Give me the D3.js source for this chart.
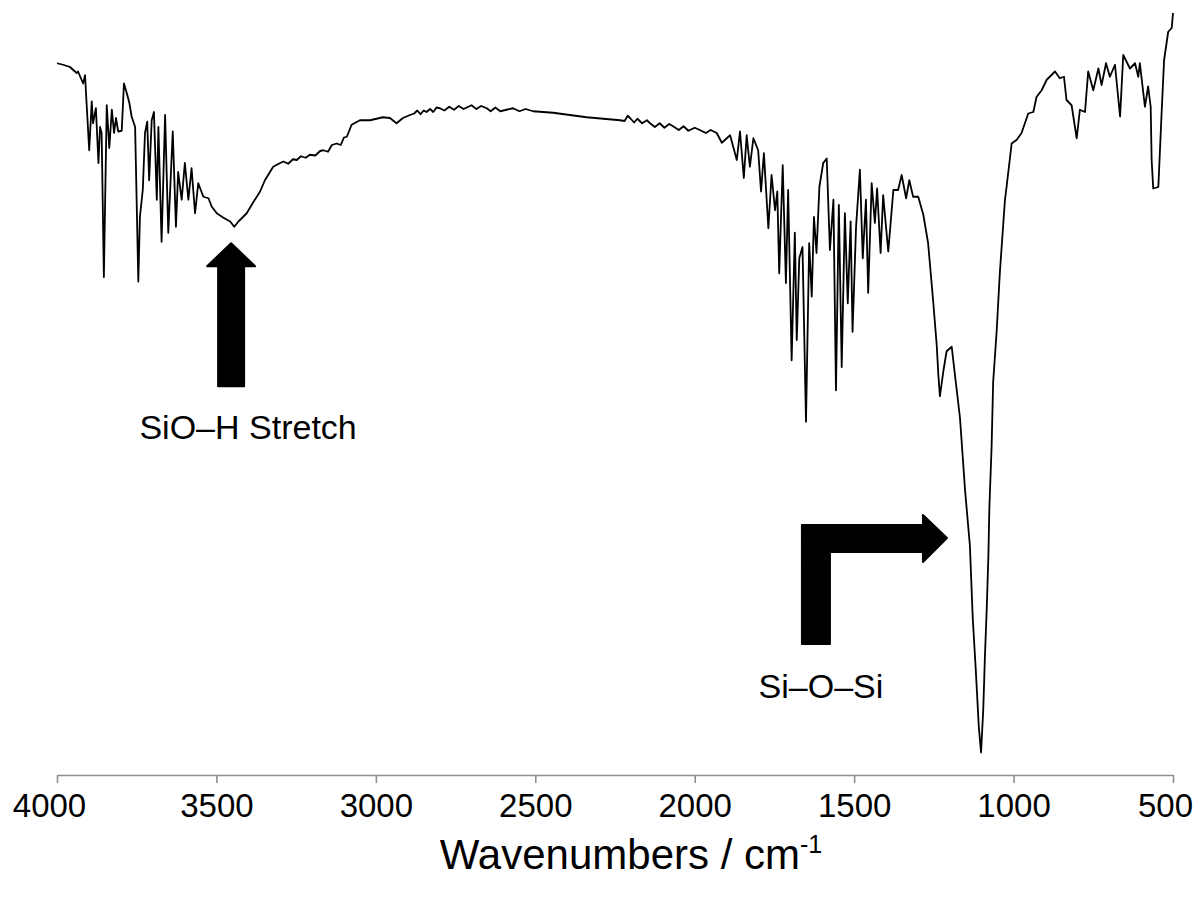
<!DOCTYPE html>
<html>
<head>
<meta charset="utf-8">
<script src="https://cdn.jsdelivr.net/npm/d3@7"></script>
<style>
    html, body { margin: 0; padding: 0; background: #fff; }
    svg { display: block; }
    text { font-family: Arial, "Liberation Sans", sans-serif; }
</style>
</head>
<body>
<div id="chart-div"></div>
<script>
// IR spectrum: wavenumber (cm-1) and transmittance (%)
const wavenumber = [
    4000, 3981, 3959, 3949, 3938, 3934, 3923, 3918, 3912, 3909,
    3899, 3891, 3887, 3878, 3870, 3865, 3860, 3853, 3844, 3836,
    3828, 3821, 3815, 3808, 3797, 3790, 3781, 3773, 3766, 3755,
    3745, 3740, 3731, 3724, 3717, 3711, 3703, 3696, 3687, 3682,
    3672, 3661, 3651, 3637, 3627, 3620, 3609, 3599, 3588, 3578,
    3567, 3557, 3541, 3525, 3515, 3499, 3478, 3457, 3444, 3431,
    3405, 3384, 3363, 3348, 3322, 3300, 3290, 3275, 3260, 3248,
    3235, 3220, 3207, 3190, 3175, 3165, 3150, 3138, 3123, 3110,
    3100, 3091, 3076, 3050, 3018, 2978, 2956, 2935, 2915, 2893,
    2880, 2870, 2860, 2850, 2841, 2830, 2820, 2810, 2799, 2785,
    2770, 2755, 2740, 2725, 2715, 2700, 2685, 2670, 2652, 2640,
    2625, 2610, 2590, 2570, 2550, 2530, 2507, 2444, 2339, 2234,
    2220, 2210, 2203, 2190, 2180, 2165, 2150, 2140, 2125, 2110,
    2095, 2080, 2068, 2050, 2035, 2020, 2000, 1984, 1965, 1950,
    1931, 1915, 1889, 1868, 1858, 1846, 1837, 1827, 1816, 1801,
    1792, 1783, 1769, 1759, 1748, 1741, 1735, 1724, 1714, 1707,
    1696, 1686, 1680, 1672, 1662, 1651, 1641, 1633, 1626, 1618,
    1609, 1597, 1586, 1576, 1565, 1557, 1548, 1539, 1529, 1520,
    1511, 1505, 1494, 1482, 1473, 1463, 1456, 1445, 1435, 1428,
    1417, 1409, 1393, 1377, 1362, 1351, 1337, 1327, 1315, 1299,
    1283, 1268, 1252, 1241, 1236, 1231, 1220, 1210, 1194, 1184,
    1168, 1152, 1137, 1128, 1118, 1109, 1102, 1095, 1090, 1084,
    1079, 1076, 1069, 1064, 1053, 1043, 1027, 1022, 1006, 990,
    975, 954, 938, 928, 912, 896, 870, 855, 842, 834,
    818, 802, 792, 776, 766, 750, 734, 724, 710, 698,
    682, 666, 656, 635, 619, 609, 604, 588, 578, 570,
    567, 562, 546, 536, 528, 515, 504, 500
];
const transmittance = [
    94.9, 94.7, 94.4, 94.0, 93.6, 93.8, 92.7, 92.2, 93.3, 90.9,
    83.3, 89.8, 86.9, 88.9, 81.6, 86.4, 85.6, 66.4, 89.3, 83.6,
    88.7, 85.6, 87.6, 85.8, 85.9, 92.2, 90.9, 89.6, 87.8, 86.4,
    65.8, 74.4, 78.0, 85.6, 87.1, 79.3, 87.3, 88.4, 76.7, 86.4,
    71.1, 88.0, 72.3, 85.8, 73.1, 80.4, 76.7, 81.6, 76.7, 80.9,
    74.9, 78.9, 77.1, 76.9, 75.8, 74.9, 74.3, 73.8, 73.1, 73.8,
    74.9, 76.4, 77.8, 79.3, 81.1, 81.6, 81.8, 81.5, 82.1, 82.0,
    82.5, 82.3, 82.7, 82.6, 83.2, 83.3, 83.1, 84.0, 84.2, 84.0,
    85.0, 85.1, 86.7, 87.3, 87.3, 87.7, 87.6, 86.9, 87.6, 88.0,
    88.2, 88.6, 88.1, 88.6, 88.4, 88.8, 88.4, 89.0, 88.9, 88.6,
    89.1, 88.7, 89.2, 88.8, 89.0, 89.3, 88.8, 89.2, 88.9, 88.5,
    89.0, 88.5, 88.7, 88.9, 88.5, 88.8, 88.5, 88.3, 87.7, 87.3,
    87.2, 87.9, 87.6, 87.0, 87.5, 86.9, 87.3, 86.9, 86.4, 86.9,
    86.3, 86.8, 86.5, 86.0, 86.5, 85.9, 86.3, 86.0, 85.6, 86.0,
    85.6, 84.3, 85.3, 82.0, 85.8, 79.6, 85.3, 81.1, 84.9, 83.3,
    77.8, 82.9, 72.9, 80.0, 75.3, 77.8, 66.9, 81.3, 65.6, 78.0,
    55.3, 72.3, 58.0, 68.9, 70.4, 47.1, 70.9, 63.8, 74.4, 69.6,
    78.4, 81.6, 82.2, 70.0, 76.7, 51.3, 76.0, 54.4, 74.9, 62.9,
    73.8, 59.1, 73.1, 80.7, 68.9, 76.7, 64.3, 78.9, 73.6, 78.2,
    69.6, 77.3, 69.8, 78.0, 78.0, 80.0, 76.9, 79.3, 77.1, 77.1,
    74.7, 70.9, 63.1, 57.3, 53.4, 50.5, 53.9, 56.5, 57.1, 53.4,
    47.6, 37.9, 30.6, 20.9, 13.6, 6.4, 3.0, 8.8, 15.6, 22.4,
    29.2, 35.5, 43.7, 52.4, 59.2, 67.0, 76.7, 78.4, 84.2, 84.7,
    85.6, 88.2, 88.4, 90.4, 91.3, 92.7, 93.8, 92.9, 93.1, 90.0,
    89.3, 84.9, 88.7, 88.4, 93.8, 91.3, 94.2, 92.0, 94.9, 93.1,
    94.7, 87.8, 96.0, 94.2, 94.9, 93.1, 94.9, 89.1, 91.8, 89.1,
    82.0, 78.2, 78.4, 88.0, 95.3, 99.1, 99.6, 101.6
];

const xTicks = [4000, 3500, 3000, 2500, 2000, 1500, 1000, 500];
const xTitle = 'Wavenumbers / cm';
const xTitleSup = '-1';

// band labels and where their arrows point (wavenumber, transmittance)
const bandLabels = ['SiO\u2013H Stretch', 'Si\u2013O\u2013Si'];
const bandWavenumber = [3454, 1209];
const bandTransmittance = [70.9, 31.6];

window.Spec = window.Spec || {};

Spec.init = function() {
    Spec.setup.initConsts();
    Spec.setup.initGraph();
    Spec.core.drawAxis();
    Spec.core.drawLine();
    Spec.core.drawBands();
};

Spec.setup = {
    initConsts: function() {
        Spec.width = 1197;
        Spec.height = 900;

        Spec.left = 57;
        Spec.right = 1173;
        Spec.bottom = 775;
        Spec.top = 25;

        Spec.font = 'Arial, "Liberation Sans", sans-serif';
    },

    initGraph: function() {
        Spec.svg = d3.select('#chart-div')
                     .append('svg')
                      .attr('width', Spec.width)
                      .attr('height', Spec.height);

        Spec.x = d3.scaleLinear()
                   .domain([4000, 500])
                   .range([Spec.left, Spec.right]);
        Spec.y = d3.scaleLinear()
                   .domain([0, 100])
                   .range([Spec.bottom, Spec.top]);
    },
};

Spec.core = {
    drawAxis: function() {
        let axis = d3.axisBottom(Spec.x)
                     .tickValues(xTicks)
                     .tickFormat(d3.format('d'))
                     .tickSize(8)
                     .tickSizeOuter(0)
                     .tickPadding(11);

        let g = Spec.svg.append('g')
                        .attr('transform', 'translate(0,' + Spec.bottom + ')')
                        .call(axis);

        g.select('.domain').attr('stroke', '#8f8f8f').attr('stroke-width', 1.6);
        g.selectAll('.tick line').attr('stroke', '#8f8f8f').attr('stroke-width', 1.6);
        g.selectAll('.tick text')
         .attr('fill', '#000')
         .style('font-family', Spec.font)
         .style('font-size', '33px');

        // end labels sit a little left of their ticks so "500" stays inside
        g.selectAll('.tick text')
         .filter((d, i) => i === 0 || i === xTicks.length - 1)
         .attr('dx', -8);

        let title = Spec.svg.append('text')
                            .attr('x', 631)
                            .attr('y', 869)
                            .attr('text-anchor', 'middle')
                            .attr('fill', '#000')
                            .style('font-size', '42px')
                            .text(xTitle);
        title.append('tspan')
             .attr('dy', -16)
             .style('font-size', '25px')
             .text(xTitleSup);
    },

    drawLine: function() {
        let data = wavenumber.map((w, i) => [w, transmittance[i]]);

        let line = d3.line()
                     .x(d => Spec.x(d[0]))
                     .y(d => Spec.y(d[1]));

        Spec.svg.append('path')
                .datum(data)
                .attr('fill', 'none')
                .attr('stroke', '#000')
                .attr('stroke-width', 1.8)
                .attr('stroke-linejoin', 'round')
                .attr('d', line);
    },

    drawBands: function() {
        // up arrow under the O-H band
        let tx = Spec.x(bandWavenumber[0]);
        let ty = Spec.y(bandTransmittance[0]);
        Spec.svg.append('path')
                .attr('transform', 'translate(' + tx + ',' + ty + ')')
                .attr('d', 'M0,0 L24,23 L13,23 L13,143 L-13,143 L-13,23 L-24,23 Z')
                .attr('fill', '#000')
                .attr('stroke', '#000')
                .attr('stroke-width', 2)
                .attr('stroke-linejoin', 'round');
        Spec.svg.append('text')
                .attr('x', tx + 17)
                .attr('y', ty + 196)
                .attr('text-anchor', 'middle')
                .attr('fill', '#000')
                .style('font-size', '34px')
                .text(bandLabels[0]);

        // elbow arrow pointing at the Si-O-Si band
        tx = Spec.x(bandWavenumber[1]);
        ty = Spec.y(bandTransmittance[1]);
        Spec.svg.append('path')
                .attr('transform', 'translate(' + tx + ',' + ty + ')')
                .attr('d', 'M0,0 L-24,-23 L-24,-13 L-145,-13 L-145,106 L-117,106 L-117,14 L-24,14 L-24,24 Z')
                .attr('fill', '#000')
                .attr('stroke', '#000')
                .attr('stroke-width', 2)
                .attr('stroke-linejoin', 'round');
        Spec.svg.append('text')
                .attr('x', tx - 126)
                .attr('y', ty + 160)
                .attr('text-anchor', 'middle')
                .attr('fill', '#000')
                .style('font-size', '34px')
                .text(bandLabels[1]);
    },
};

document.addEventListener('DOMContentLoaded', Spec.init);
</script>
</body>
</html>
